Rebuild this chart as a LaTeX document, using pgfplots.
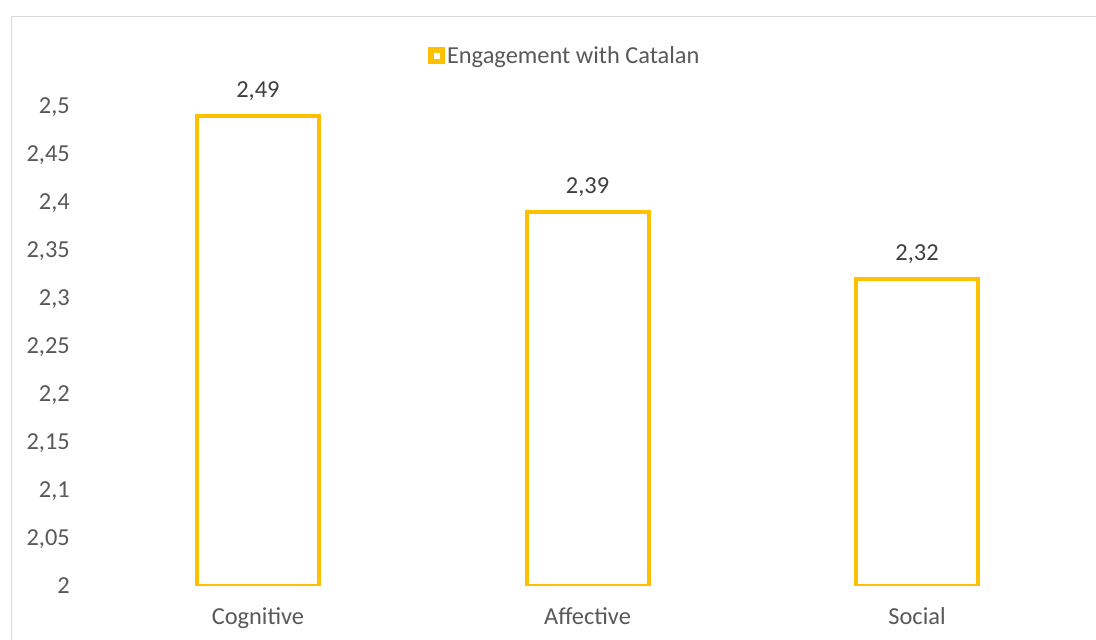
\documentclass[border=0pt]{standalone}
\usepackage{pgfplots}
\pgfplotsset{compat=1.18}
\usepackage{fontspec}
\setmainfont{Carlito}
\definecolor{gold}{HTML}{FFC000}
\definecolor{tickgray}{HTML}{595959}
\definecolor{labgray}{HTML}{404040}
\definecolor{framegray}{HTML}{D9D9D9}
\begin{document}
\begin{tikzpicture}
\clip (0pt,0pt) rectangle (548pt,319.5pt);
\fill[white] (0pt,0pt) rectangle (548pt,319.5pt);
\draw[framegray, line width=0.75pt] (5.75pt,-10pt) -- (5.75pt,311.25pt) -- (560pt,311.25pt);
\begin{axis}[
  at={(46.6pt,26.75pt)}, anchor=south west,
  scale only axis,
  width=494.3pt, height=239.75pt,
  xmin=-0.5, xmax=2.5, ymin=2, ymax=2.5,
  ybar, bar width=61pt,
  axis line style={draw=none},
  tick style={draw=none},
  xtick=data,
  xticklabels={Cognitive,Affective,Social},
  ytick={2,2.05,2.1,2.15,2.2,2.25,2.3,2.35,2.4,2.45,2.5},
  /pgf/number format/use comma,
  /pgf/number format/fixed,
  /pgf/number format/precision=2,
  /pgf/number format/assume math mode=true,
  font=\fontsize{12.2pt}{14pt}\selectfont,
  yticklabel style={anchor=base east, inner sep=0pt, xshift=-11.5pt, yshift=-3.85pt, text=tickgray},
  xticklabel style={anchor=base, inner sep=0pt, yshift=-15pt, text=tickgray},
  nodes near coords,
  nodes near coords style={anchor=base, inner sep=0pt, yshift=9pt, text=labgray},
  legend style={at={(0.477,1.104)}, anchor=center, draw=none, fill=none, text=tickgray,
    inner sep=0pt, nodes={inner sep=1pt}},
  legend image code/.code={\draw[draw=gold, fill=white, line width=2.75pt] (0pt,-2.6pt) rectangle (5.75pt,3.15pt);},
]
\addplot[draw=gold, fill=none, line width=2pt] coordinates {(0,2.49) (1,2.39) (2,2.32)};
\addlegendentry{Engagement with Catalan}
\end{axis}
\end{tikzpicture}
\end{document}
